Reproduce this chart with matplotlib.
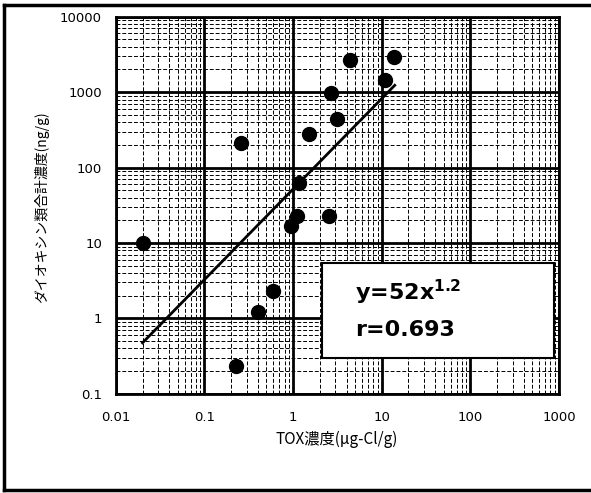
import numpy as np
import matplotlib.pyplot as plt
from matplotlib.lines import Line2D
from matplotlib.patches import Rectangle
from matplotlib.ticker import LogLocator, FixedLocator, NullFormatter

plt.rcParams['font.family'] = ['Noto Sans CJK JP', 'DejaVu Sans']

# TOX濃度 (μg-Cl/g) と ダイオキシン類合計濃度 (ng/g)
tox = [0.02, 0.26, 0.226, 0.40, 0.59, 0.95, 1.10, 1.17, 1.51, 2.54, 2.67, 3.12, 4.4, 10.9, 13.7]
dxn = [10, 213, 0.234, 1.22, 2.3, 17, 23, 63, 283, 22.6, 980, 445, 2700, 1460, 2950]

# 回帰式 y = 52 x^1.2
coef = 52
power = 1.2
fit_range = [0.02, 14]

x_ticks = [0.01, 0.1, 1, 10, 100, 1000]
x_labels = ['0.01', '0.1', '1', '10', '100', '1000']
y_ticks = [0.1, 1, 10, 100, 1000, 10000]
y_labels = ['0.1', '1', '10', '100', '1000', '10000']

fig = plt.figure(figsize=(5.91, 4.93), dpi=100)
ax = fig.add_axes([0.196, 0.201, 0.75, 0.765])

ax.set_xscale('log')
ax.set_yscale('log')
ax.set_xlim(0.01, 1000)
ax.set_ylim(0.1, 10000)

ax.xaxis.set_major_locator(FixedLocator(x_ticks))
ax.yaxis.set_major_locator(FixedLocator(y_ticks))
ax.set_xticklabels(x_labels, family='DejaVu Sans')
ax.set_yticklabels(y_labels, family='DejaVu Sans')
ax.xaxis.set_minor_locator(LogLocator(base=10, subs=np.arange(2, 10)))
ax.yaxis.set_minor_locator(LogLocator(base=10, subs=np.arange(2, 10)))
ax.xaxis.set_minor_formatter(NullFormatter())
ax.yaxis.set_minor_formatter(NullFormatter())
ax.tick_params(which='both', length=0, labelsize=9.5)
ax.tick_params(axis='x', pad=12)
ax.tick_params(axis='y', pad=10)

ax.grid(which='major', color='black', linewidth=2.0)
ax.grid(which='minor', color='black', linewidth=0.7, linestyle=(0, (4, 2)))
for s in ax.spines.values():
    s.set_linewidth(2.0)

xf = np.geomspace(fit_range[0], fit_range[1], 50)
ax.plot(xf, coef * xf ** power, color='black', linewidth=2.0, zorder=3)
ax.plot(tox, dxn, 'o', color='black', markersize=10, zorder=4)

fig.text(0.570, 1 - 439 / 493, 'TOX濃度(μg-Cl/g)', fontsize=11, ha='center', va='center')
fig.text(0.071, 1 - 207 / 493, 'ダイオキシン類合計濃度(ng/g)', fontsize=10,
         rotation=90, ha='center', va='center')

# 回帰式の枠
ax.add_patch(Rectangle((0.465, 0.095), 0.524, 0.252, transform=ax.transAxes,
                       facecolor='white', edgecolor='black', linewidth=1.5, zorder=6))
ax.text(0.540, 0.268, 'y=52x$^{\\mathbf{1.2}}$', transform=ax.transAxes, fontsize=16,
        fontweight='bold', ha='left', va='center', family='DejaVu Sans', zorder=7)
ax.text(0.540, 0.170, 'r=0.693', transform=ax.transAxes, fontsize=16,
        fontweight='bold', ha='left', va='center', family='DejaVu Sans', zorder=7)

# 外枠
for xs, ys in [([0.007, 1.0], [0.99, 0.99]), ([0.007, 0.007], [0.006, 0.99]), ([0.007, 1.0], [0.006, 0.006])]:
    fig.add_artist(Line2D(xs, ys, transform=fig.transFigure, color='black', linewidth=2.5))

fig.savefig('out.png', dpi=100)
